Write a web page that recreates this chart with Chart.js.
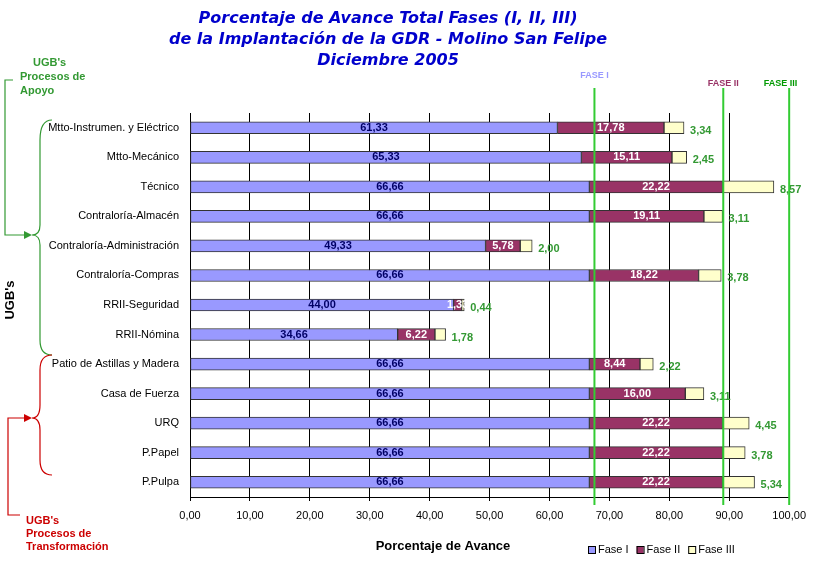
<!DOCTYPE html>
<html><head><meta charset="utf-8">
<script src="https://cdn.jsdelivr.net/npm/chart.js@4/dist/chart.umd.min.js"></script>
<style>body{margin:0;background:#fff}#wrap{width:814px;height:563px}</style>
</head><body><div id="wrap"><canvas id="c"></canvas></div>
<script>
const categories = ["Mtto-Instrumen. y Eléctrico","Mtto-Mecánico","Técnico","Contraloría-Almacén","Contraloría-Administración","Contraloría-Compras","RRII-Seguridad","RRII-Nómina","Patio de Astillas y Madera","Casa de Fuerza","URQ","P.Papel","P.Pulpa"]
const fase1 = [61.33,65.33,66.66,66.66,49.33,66.66,44.00,34.66,66.66,66.66,66.66,66.66,66.66]
const fase2 = [17.78,15.11,22.22,19.11,5.78,18.22,1.33,6.22,8.44,16.00,22.22,22.22,22.22]
const fase3 = [3.34,2.45,8.57,3.11,2.00,3.78,0.44,1.78,2.22,3.11,4.45,3.78,5.34]
const faseLines = [{v:67.5,label:"FASE I",color:"#9999ff"},{v:89,label:"FASE II",color:"#993366"},{v:100,label:"FASE III",color:"#009900"}]
const fmt = v => v.toFixed(2).replace(".", ",")

const deco = {
  id: "deco",
  afterDatasetsDraw(chart){
    const ctx = chart.ctx, x = chart.scales.x
    // value labels
    chart.data.datasets.forEach((ds, di) => {
      chart.getDatasetMeta(di).data.forEach((bar, i) => {
        ctx.save()
        ctx.font = "bold 11px Arial, 'Liberation Sans'"
        ctx.textBaseline = "middle"
        if (di == 2) {
          ctx.fillStyle = "#339933"; ctx.textAlign = "left"
          ctx.fillText(fmt(ds.data[i]), bar.x + 6, bar.y + 3)
        } else {
          ctx.fillStyle = di == 0 ? "#000066" : "#ffffff"; ctx.textAlign = "center"
          ctx.fillText(fmt(ds.data[i]), (bar.x + bar.base) / 2, bar.y)
        }
        ctx.restore()
      })
    })
    // fase lines
    faseLines.forEach(f => {
      const px = x.getPixelForValue(f.v)
      ctx.save()
      ctx.strokeStyle = "#33cc33"; ctx.lineWidth = 2
      ctx.beginPath(); ctx.moveTo(px, 88); ctx.lineTo(px, 505); ctx.stroke()
      ctx.font = "bold 9px Arial, 'Liberation Sans'"; ctx.fillStyle = f.color
      ctx.textAlign = f.v == 100 ? "right" : "center"
      ctx.fillText(f.label, f.v == 100 ? px + 8 : px, f.v == 67.5 ? 78 : 86)
      ctx.restore()
    })
  },
  afterDraw(chart){
    const ctx = chart.ctx
    ctx.save()
    // title
    ctx.fillStyle = "#0000cc"; ctx.textAlign = "center"
    ctx.font = "italic bold 16px 'DejaVu Sans'"
    ;["Porcentaje de Avance Total Fases (I, II, III)","de la Implantación de la GDR - Molino San Felipe","Diciembre 2005"].forEach((t, i) => ctx.fillText(t, 388, 23 + i * 21))
    // axis titles
    ctx.fillStyle = "#000"; ctx.font = "bold 13px Arial, 'Liberation Sans'"
    ctx.fillText("Porcentaje de Avance", 443, 550)
    ctx.save(); ctx.translate(14, 300); ctx.rotate(-Math.PI / 2); ctx.fillText("UGB's", 0, 0); ctx.restore()
    // legend
    const leg = [["Fase I","#9999ff"],["Fase II","#993366"],["Fase III","#ffffcc"]]
    let lx = 588
    ctx.font = "11px Arial, 'Liberation Sans'"; ctx.textAlign = "left"; ctx.textBaseline = "middle"
    leg.forEach(([t, c]) => {
      ctx.fillStyle = c; ctx.fillRect(lx, 546, 7, 7); ctx.strokeStyle = "#000"; ctx.lineWidth = 1; ctx.strokeRect(lx + .5, 546.5, 7, 7)
      ctx.fillStyle = "#000"; ctx.fillText(t, lx + 10, 550); lx += ctx.measureText(t).width + 18
    })
    // annotations
    ctx.font = "bold 11px Arial, 'Liberation Sans'"; ctx.textBaseline = "alphabetic"
    ctx.fillStyle = "#339933"
    ;["UGB's","Procesos de","Apoyo"].forEach((t, i) => ctx.fillText(t, i ? 20 : 33, 66 + i * 14))
    ctx.fillStyle = "#cc0000"
    ;["UGB's","Procesos de","Transformación"].forEach((t, i) => ctx.fillText(t, 26, 524 + i * 13))
    // green bracket & arrow
    ctx.strokeStyle = "#339933"; ctx.lineWidth = 1.2
    ctx.beginPath(); ctx.moveTo(52, 120); ctx.quadraticCurveTo(40, 120, 40, 140); ctx.lineTo(40, 225)
    ctx.quadraticCurveTo(40, 235, 32, 235); ctx.quadraticCurveTo(40, 235, 40, 245); ctx.lineTo(40, 340)
    ctx.quadraticCurveTo(40, 355, 52, 355); ctx.stroke()
    ctx.beginPath(); ctx.moveTo(13, 80); ctx.lineTo(5, 80); ctx.lineTo(5, 235); ctx.lineTo(28, 235); ctx.stroke()
    ctx.fillStyle = "#339933"; ctx.beginPath(); ctx.moveTo(32, 235); ctx.lineTo(24, 231); ctx.lineTo(24, 239); ctx.fill()
    // red bracket & arrow
    ctx.strokeStyle = "#cc0000"; ctx.fillStyle = "#cc0000"
    ctx.beginPath(); ctx.moveTo(52, 355); ctx.quadraticCurveTo(40, 355, 40, 370); ctx.lineTo(40, 405)
    ctx.quadraticCurveTo(40, 418, 32, 418); ctx.quadraticCurveTo(40, 418, 40, 430); ctx.lineTo(40, 460)
    ctx.quadraticCurveTo(40, 475, 52, 475); ctx.stroke()
    ctx.beginPath(); ctx.moveTo(28, 418); ctx.lineTo(8, 418); ctx.lineTo(8, 515); ctx.lineTo(20, 515); ctx.stroke()
    ctx.beginPath(); ctx.moveTo(32, 418); ctx.lineTo(24, 414); ctx.lineTo(24, 422); ctx.fill()
    ctx.restore()
  }
}

const mk = (label, data, color) => ({label, data, backgroundColor: color, borderColor: "#333", borderWidth: 1, borderSkipped: false, barThickness: 12})

new Chart(document.getElementById("c"), {
  type: "bar",
  data: { labels: categories, datasets: [mk("Fase I", fase1, "#9999ff"), mk("Fase II", fase2, "#993366"), mk("Fase III", fase3, "#ffffcc")] },
  options: {
    indexAxis: "y", responsive: true, maintainAspectRatio: false, animation: false,
    layout: { padding: { top: 113, right: 24, left: 0, bottom: 0 } },
    plugins: { legend: { display: false }, tooltip: { enabled: false } },
    scales: {
      x: { stacked: true, min: 0, max: 100,
        ticks: { stepSize: 10, padding: 8, color: "#000", font: { size: 11, family: "Arial, 'Liberation Sans'" }, callback: v => fmt(v) },
        grid: { color: "#000", drawTicks: true, tickLength: 4 }, border: { color: "#000" },
        afterFit: s => { s.height = 66 } },
      y: { stacked: true,
        ticks: { color: "#000", font: { size: 11, family: "Arial, 'Liberation Sans'" } },
        grid: { display: false }, border: { color: "#000" },
        afterFit: s => { s.width = 190 } }
    }
  },
  plugins: [deco]
})
</script></body></html>
